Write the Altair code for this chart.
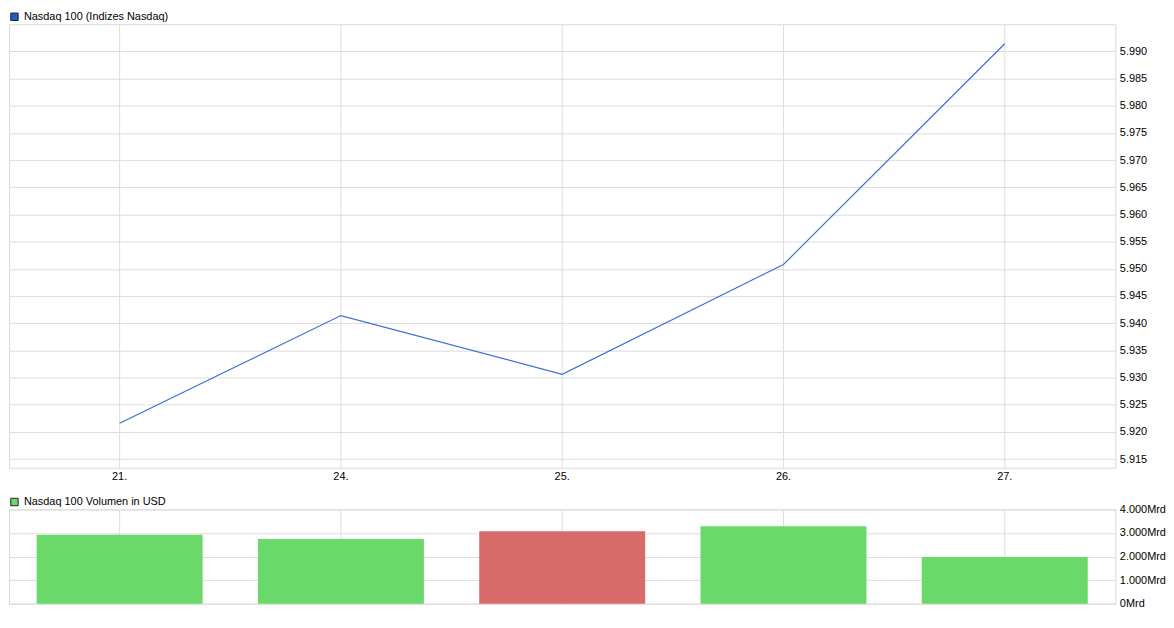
import altair as alt
import pandas as pd

days = ["21.", "24.", "25.", "26.", "27."]
close = [5921.6, 5941.4, 5930.6, 5950.8, 5991.4]
volume = [2930, 2750, 3080, 3290, 1980]
direction = ["up", "up", "down", "up", "up"]
index_name = "Nasdaq 100 (Indizes Nasdaq)"
volume_name = "Nasdaq 100 Volumen in USD"
price_ticks = [5915, 5920, 5925, 5930, 5935, 5940, 5945, 5950,
               5955, 5960, 5965, 5970, 5975, 5980, 5985, 5990]
volume_ticks = [0, 1000, 2000, 3000, 4000]

df = pd.DataFrame({
    "day": days,
    "close": close,
    "volume": volume,
    "series": [index_name] * len(days),
    "bar": [volume_name if d == "up" else "down" for d in direction],
})

FONT = "Liberation Sans"
W = 1115


def xscale():
    return alt.Scale(type="band", paddingInner=0.25, paddingOuter=0.125, domain=days)


def legend_cfg(**kw):
    return alt.Legend(
        title=None, orient="none", legendX=0, legendY=-13, padding=0,
        symbolType="square", symbolSize=56, symbolStrokeColor="#222",
        symbolStrokeWidth=1, symbolOpacity=1, labelFont=FONT, labelFontSize=11,
        labelColor="#000", labelOffset=4, **kw)


top_x = alt.X("day:N", sort=days, scale=xscale(),
              axis=alt.Axis(labelAngle=0, labelPadding=3, grid=True, bandPosition=0.5,
                            ticks=False, domain=False, title=None))
top_y = alt.Y("close:Q", scale=alt.Scale(domain=[5913.4, 5995], nice=False, zero=False),
              axis=alt.Axis(orient="right", values=price_ticks,
                            labelExpr="replace(format(datum.value, ','), ',', '.')",
                            labelPadding=4, grid=True, ticks=False, domain=False, title=None))

line = alt.Chart(df).mark_line(color="#3a6fd6", strokeWidth=1.2).encode(x=top_x, y=top_y)
legend_pts = alt.Chart(df).mark_point(shape="square", filled=True, size=0, opacity=1).encode(
    x=top_x, y=top_y,
    color=alt.Color("series:N", scale=alt.Scale(domain=[index_name], range=["#1f5ccc"]),
                    legend=legend_cfg()))

top = alt.layer(line, legend_pts).properties(width=W, height=447)

bars = alt.Chart(df).mark_bar(opacity=1).encode(
    x=alt.X("day:N", sort=days, scale=xscale(),
            axis=alt.Axis(labels=False, grid=True, bandPosition=0.5, ticks=False,
                          domain=False, title=None)),
    y=alt.Y("volume:Q", scale=alt.Scale(domain=[0, 4000], nice=False),
            axis=alt.Axis(orient="right", values=volume_ticks,
                          labelExpr="replace(format(datum.value, ','), ',', '.') + 'Mrd'",
                          labelPadding=4, grid=True, ticks=False, domain=False, title=None)),
    color=alt.Color("bar:N", scale=alt.Scale(domain=[volume_name, "down"],
                                             range=["#6ad96a", "#d96a6a"]),
                    legend=legend_cfg(values=[volume_name])),
).properties(width=W, height=95)

chart = alt.vconcat(top, bars, spacing=13).resolve_scale(
    color="independent", x="independent", y="independent"
).resolve_legend(color="independent").properties(
    padding={"left": 0, "top": 0, "right": 0, "bottom": 0}
).configure_view(stroke="#d9d9d9", strokeWidth=1).configure_axis(
    gridColor="#dddddd", gridWidth=1, labelFont=FONT, labelFontSize=11, labelColor="#000"
).configure_legend(labelFont=FONT)

chart.save("out.html", embed_options={"renderer": "svg", "actions": False})
